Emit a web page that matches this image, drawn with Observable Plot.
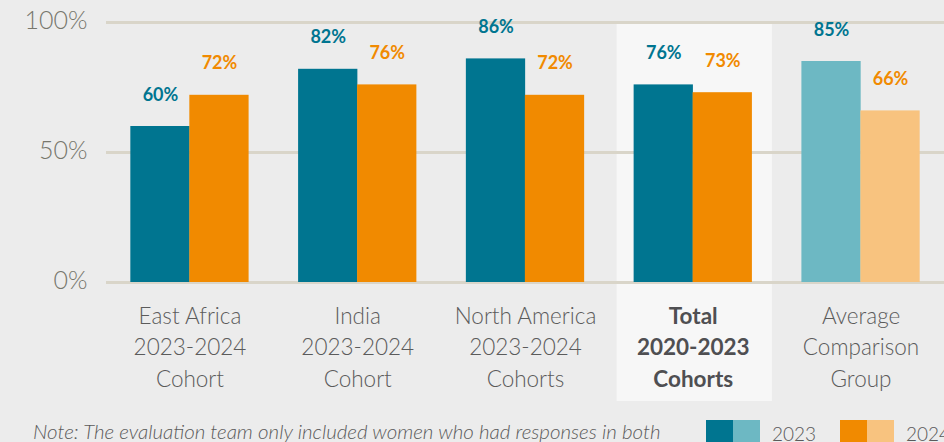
<!DOCTYPE html>
<html>
<head>
<meta charset="utf-8">
<script src="https://cdn.jsdelivr.net/npm/d3@7"></script>
<script src="https://cdn.jsdelivr.net/npm/@observablehq/plot@0.6"></script>
<style>
  html, body { margin: 0; padding: 0; background: #ececec; width: 944px; height: 442px; overflow: hidden; font-family: Lato, "Open Sans", sans-serif; }
  #wrap { position: relative; width: 944px; height: 442px; }
  #note { position: absolute; left: 33px; top: 419px; font-size: 20.5px; font-style: italic; color: #5a5a5a; white-space: nowrap; font-weight: 300; }
  .sw { position: absolute; top: 420px; width: 27px; height: 30px; }
  .lg { position: absolute; top: 422px; font-size: 19px; color: #5a5a5a; font-weight: 300; }
</style>
</head>
<body>
<div id="wrap">
  <div id="chart"></div>
  <div id="note"></div>
  <div id="legend"></div>
</div>
<script>
// ---- data ----
const groups = ["East Africa", "India", "North America", "Total", "Average"];
const groupLabels = [
  "East Africa\n2023-2024\nCohort",
  "India\n2023-2024\nCohort",
  "North America\n2023-2024\nCohorts",
  "Total\n2020-2023\nCohorts",
  "Average\nComparison\nGroup"
];
const values2023 = [60, 82, 86, 76, 85];
const values2024 = [72, 76, 72, 73, 66];
const yTicks = [0, 50, 100];
const highlightGroup = "Total";
const comparisonGroup = "Average";
const legendLabels = ["2023", "2024"];
const noteText = "Note: The evaluation team only included women who had responses in both";

// ---- styles ----
const TEAL = "#007590", TEAL_LIGHT = "#6db8c3";
const ORANGE = "#f18a00", ORANGE_LIGHT = "#f8c37f";
const GRID = "#d9d5c9";

const table = groups.map((g, i) => ({
  group: g,
  label: groupLabels[i],
  v2023: values2023[i],
  v2024: values2024[i],
  comparison: g === comparisonGroup
}));

const chart = Plot.plot({
  width: 944,
  height: 412,
  marginLeft: 106,
  marginRight: 0,
  marginTop: 22,
  marginBottom: 130,
  style: { fontFamily: "Lato, 'Open Sans', sans-serif", background: "transparent", overflow: "visible" },
  x: { domain: groups, paddingInner: 0.295, paddingOuter: 0.145, round: false, axis: null },
  y: { domain: [0, 100], axis: null },
  marks: [
    Plot.barY(table.filter(d => d.group === highlightGroup), {
      x: "group", y1: 0, y2: 100, fill: "#f7f7f7",
      insetLeft: -17, insetRight: -20, insetTop: 1, insetBottom: -119
    }),
    Plot.ruleY(yTicks, { stroke: GRID, strokeWidth: 3 }),
    Plot.barY(table, {
      x: "group", y: "v2023",
      fill: d => d.comparison ? TEAL_LIGHT : TEAL,
      insetRight: 59
    }),
    Plot.barY(table, {
      x: "group", y: "v2024",
      fill: d => d.comparison ? ORANGE_LIGHT : ORANGE,
      insetLeft: 59
    }),
    Plot.text(table, {
      x: "group", y: "v2023", text: d => d.v2023 + "%",
      dx: -29.5, dy: -26, lineAnchor: "bottom",
      fill: TEAL, fontSize: 18, fontWeight: "bold"
    }),
    Plot.text(table, {
      x: "group", y: "v2024", text: d => d.v2024 + "%",
      dx: 29.5, dy: -26, lineAnchor: "bottom",
      fill: ORANGE, fontSize: 18, fontWeight: "bold"
    }),
    Plot.axisY({
      ticks: yTicks, tickFormat: d => d + "%", tickSize: 0, tickPadding: 19,
      fontSize: 25, fill: "#77776d", fontWeight: 300, dy: -2
    }),
    Plot.text(table.filter(d => d.group !== highlightGroup), {
      x: "group", text: "label", frameAnchor: "bottom",
      lineAnchor: "top", dy: 19, fontSize: 22.5, lineHeight: 1.4,
      fill: "#5b5b5b", fontWeight: 300
    }),
    Plot.text(table.filter(d => d.group === highlightGroup), {
      x: "group", text: "label", frameAnchor: "bottom",
      lineAnchor: "top", dy: 19, fontSize: 22.5, lineHeight: 1.4,
      fill: "#4f4f52", fontWeight: "bold"
    })
  ]
});
document.getElementById("chart").appendChild(chart);

document.getElementById("note").textContent = noteText;

const legend = document.getElementById("legend");
const legendItems = [
  { label: legendLabels[0], colors: [TEAL, TEAL_LIGHT], left: 706 },
  { label: legendLabels[1], colors: [ORANGE, ORANGE_LIGHT], left: 840 }
];
legendItems.forEach(it => {
  it.colors.forEach((c, j) => {
    const s = document.createElement("div");
    s.className = "sw";
    s.style.left = (it.left + j * 27) + "px";
    s.style.background = c;
    legend.appendChild(s);
  });
  const t = document.createElement("div");
  t.className = "lg";
  t.style.left = (it.left + 66) + "px";
  t.textContent = it.label;
  legend.appendChild(t);
});
</script>
</body>
</html>
